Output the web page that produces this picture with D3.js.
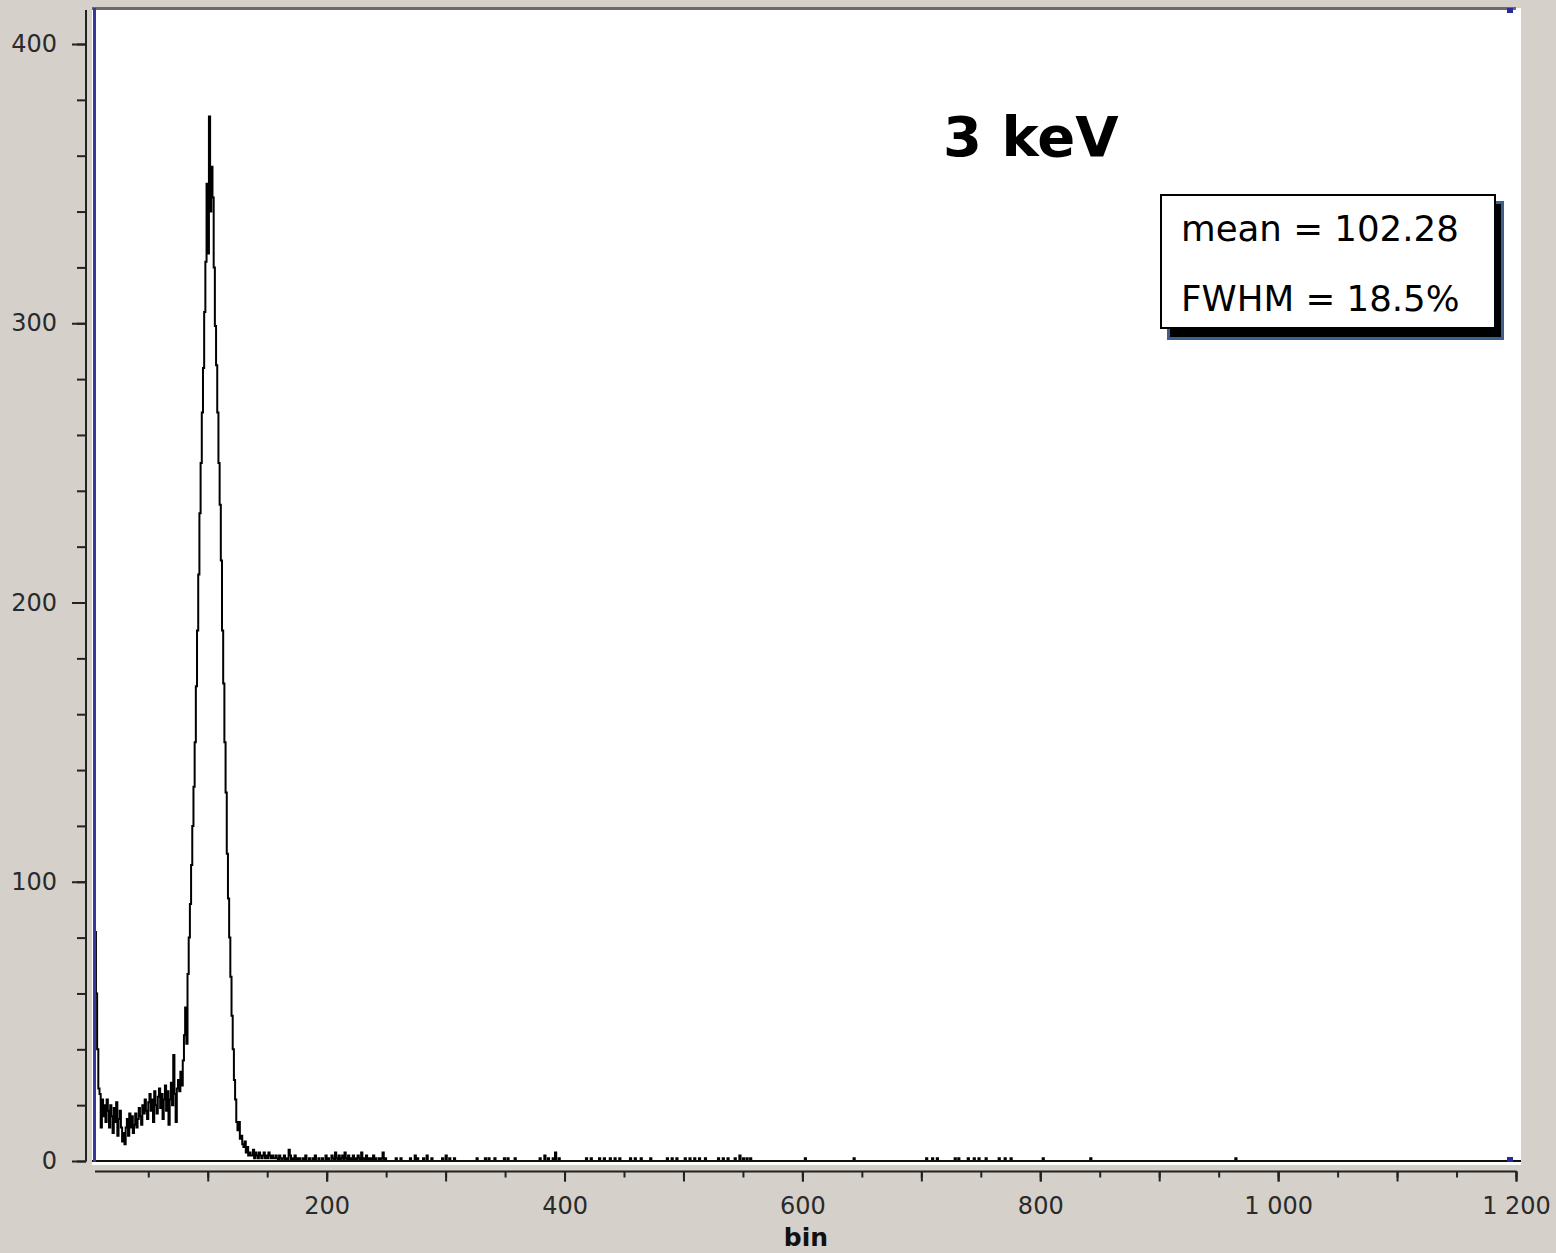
<!DOCTYPE html>
<html><head><meta charset="utf-8">
<script src="https://cdn.jsdelivr.net/npm/d3@7"></script>
<style>html,body{margin:0;padding:0;background:#d5d1ca;}svg{display:block}</style>
</head><body><svg id="c" width="1556" height="1253"></svg>
<script>
// ---- data ----
const peakStartBin = 5;
const peakCounts = [
 82,60,40,26,24,12,22,16,20,14,22,18,12,20,16,10,19,14,21,9,
 15,18,12,7,10,6,12,15,9,17,12,16,10,13,17,12,15,19,16,13,
 20,17,22,18,15,21,24,18,22,14,25,20,17,23,26,19,24,15,22,27,
 18,25,13,22,28,20,38,24,14,26,29,25,32,27,36,45,55,42,67,80,
 92,106,120,134,150,170,190,210,232,250,268,284,304,322,350,325,374,340,356,345,
 320,299,285,268,250,235,215,190,171,150,132,110,94,80,66,52,40,29,22,14,
 11,14,8,9,6,5,7,3,5,2,3
];
const tailBins = [136,137,138,139,140,141,142,143,144,145,146,147,148,149,150,151,152,153,154,155,156,157,158,160,161,
 163,164,166,168,169,171,173,175,177,180,182,185,188,190,193,196,199,201,
 204,205,207,208,210,212,213,215,216,218,220,222,224,226,227,229,231,233,235,237,239,241,
 244,246,247,249,258,262,270,274,276,281,284,288,297,300,303,307,
 326,333,336,341,349,352,358,379,383,386,390,392,395,
 418,422,429,433,438,442,446,455,459,464,472,486,490,494,
 501,505,509,513,518,529,533,537,543,547,550,553,556,
 602,643,704,709,713,728,731,739,744,748,754,765,770,775,802,842,964];
const tailCounts = [2,2,4,1,3,2,1,3,2,1,2,3,1,2,1,3,2,1,2,1,1,2,1,2,1,
 1,2,1,4,2,1,2,1,1,1,2,1,1,2,1,1,2,1,
 2,1,3,1,2,1,2,3,1,2,1,2,1,2,1,3,1,2,1,1,2,1,
 1,1,3,1,1,1,1,2,1,1,2,1,1,2,1,1,
 1,1,1,1,1,1,1,1,2,1,1,3,1,
 1,1,1,1,1,1,1,1,1,1,1,1,1,1,
 1,1,1,1,1,1,1,1,1,2,1,1,1,
 1,1,1,1,1,1,1,1,1,1,1,1,1,1,1,1,1];
const yTickValues = [0,100,200,300,400];
const yTickLabels = ["0","100","200","300","400"];
const xTickValues = [200,400,600,800,1000,1200];
const xTickLabels = ["200","400","600","800","1 000","1 200"];
const titleText = "3 keV";
const statsLines = ["mean = 102.28","FWHM = 18.5%"];
const xLabelText = "bin";

// ---- build histogram table ----
const nBins = 1200;
const counts = new Array(nBins + 1).fill(0);
peakCounts.forEach((c,i)=>{counts[peakStartBin+i]=c;});
tailBins.forEach((b,i)=>{counts[b]=tailCounts[i];});
const pts = counts.map((c,i)=>[i,c]);

const svg = d3.select("#c");
const x = d3.scaleLinear().domain([0,1200]).range([88.8,1516]);
const y = d3.scaleLinear().domain([0,400]).range([1161,44]);

// plot area
const PL=92, PR=1521, PT=8, PB=1165;
svg.append("rect").attr("x",PL).attr("y",PT).attr("width",PR-PL).attr("height",PB-PT).attr("fill","#ffffff");
svg.append("defs").append("clipPath").attr("id","clip")
  .append("rect").attr("x",PL).attr("y",PT).attr("width",PR-PL).attr("height",PB-PT);

// histogram
const line = d3.line().x(d=>x(d[0])).y(d=>y(d[1])).curve(d3.curveStepAfter);
svg.append("path").datum(pts).attr("clip-path","url(#clip)")
  .attr("d",line).attr("fill","none").attr("stroke","#000").attr("stroke-width",2);

// baseline
svg.append("line").attr("x1",PL).attr("x2",PR).attr("y1",y(0)).attr("y2",y(0))
  .attr("stroke","#111").attr("stroke-width",1.8);
// top border
svg.append("line").attr("x1",PL).attr("x2",1516).attr("y1",8.5).attr("y2",8.5)
  .attr("stroke","#6a6a6a").attr("stroke-width",3);
// left blue line
svg.append("line").attr("x1",94.5).attr("x2",94.5).attr("y1",PT).attr("y2",1162)
  .attr("stroke","#38389a").attr("stroke-width",3);
// blue markers
svg.append("rect").attr("x",1507).attr("y",8).attr("width",6).attr("height",5).attr("fill","#2a2aa0");
svg.append("rect").attr("x",1507).attr("y",1157).attr("width",6).attr("height",5).attr("fill","#2a2aa0");

const tickFont = "DejaVu Sans, sans-serif";
// y axis
const yMinor = d3.range(0,401,20);
const gy = svg.append("g").attr("transform","translate(86,0)");
gy.call(d3.axisLeft(y).tickValues(yMinor).tickSize(9).tickFormat(""));
gy.call(g=>g.select(".domain").remove());
const gy2 = svg.append("g").attr("transform","translate(86,0)");
gy2.call(d3.axisLeft(y).tickValues(yTickValues).tickSize(14).tickPadding(15)
  .tickFormat((d,i)=>yTickLabels[i]));
gy2.call(g=>g.select(".domain").remove());
svg.append("line").attr("x1",86).attr("x2",86).attr("y1",10).attr("y2",y(0)+0.5)
  .attr("stroke","#222").attr("stroke-width",2);

// x axis
const xMinor = d3.range(50,1201,50);
const xMid = d3.range(100,1201,100);
const axY = 1171.5;
const gx = svg.append("g").attr("transform",`translate(0,${axY})`);
gx.call(d3.axisBottom(x).tickValues(xMinor).tickSize(6).tickFormat(""));
gx.call(g=>g.select(".domain").remove());
const gx1 = svg.append("g").attr("transform",`translate(0,${axY})`);
gx1.call(d3.axisBottom(x).tickValues(xMid).tickSize(10).tickFormat(""));
gx1.call(g=>g.select(".domain").remove());
const gx2 = svg.append("g").attr("transform",`translate(0,${axY})`);
gx2.call(d3.axisBottom(x).tickValues(xTickValues).tickSize(10).tickPadding(15)
  .tickFormat((d,i)=>xTickLabels[i]));
gx2.call(g=>g.select(".domain").remove());
svg.append("line").attr("x1",95).attr("x2",1516.5).attr("y1",axY).attr("y2",axY)
  .attr("stroke","#222").attr("stroke-width",2);

svg.selectAll(".tick line").attr("stroke","#222").attr("stroke-width",2);
svg.selectAll(".tick text").attr("font-family",tickFont).attr("font-size",24).attr("fill","#2a2a2a");

// x label
svg.append("text").attr("x",806).attr("y",1246).attr("text-anchor","middle")
  .attr("font-family",tickFont).attr("font-weight","bold").attr("font-size",25).attr("fill","#111")
  .text(xLabelText);

// title
svg.append("text").attr("x",943).attr("y",156).attr("font-family",tickFont)
  .attr("font-weight","bold").attr("font-size",56).attr("fill","#000").text(titleText);

// stats box
svg.append("rect").attr("x",1168.5).attr("y",202.5).attr("width",334).attr("height",136)
  .attr("fill","#000").attr("stroke","#3f5f8f").attr("stroke-width",3);
svg.append("rect").attr("x",1161).attr("y",195).attr("width",334).attr("height",133)
  .attr("fill","#fff").attr("stroke","#000").attr("stroke-width",2);
statsLines.forEach((t,i)=>{
  svg.append("text").attr("x",1181).attr("y",241+i*70).attr("font-family",tickFont)
    .attr("font-size",35.6).attr("fill","#000").text(t);
});
</script></body></html>
